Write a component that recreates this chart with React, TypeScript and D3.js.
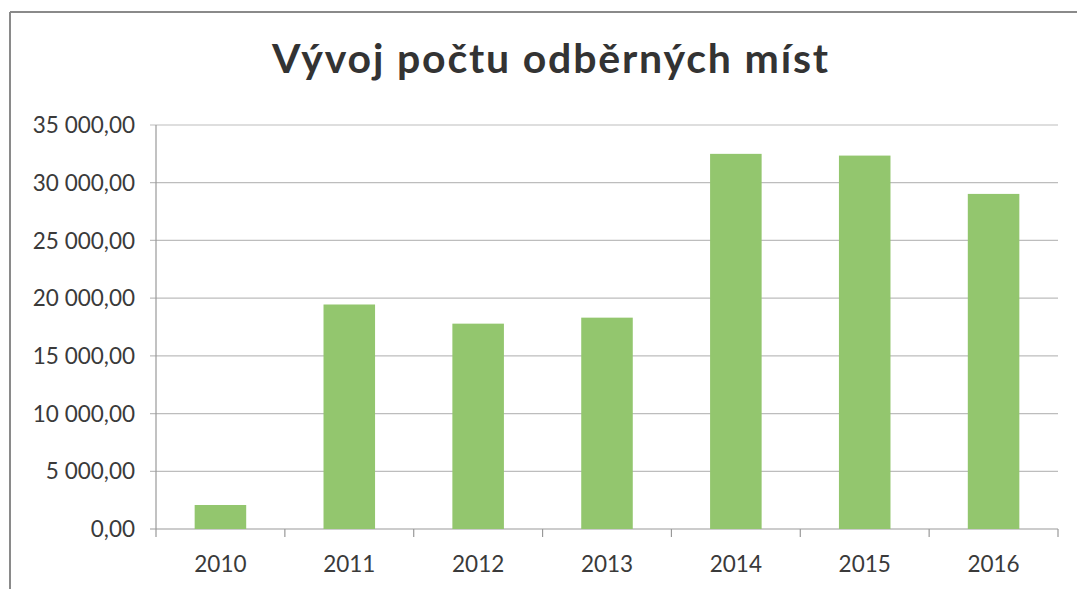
import React from "react";
import * as d3 from "d3";

const categories = ["2010", "2011", "2012", "2013", "2014", "2015", "2016"];
const values = [2080, 19450, 17790, 18310, 32500, 32350, 29030];
const yTicks = [0, 5000, 10000, 15000, 20000, 25000, 30000, 35000];
const title = "Vývoj počtu odběrných míst";

const W = 1077;
const H = 589;
const margin = { left: 156, right: 19, top: 125, bottom: 60 };

const fmt = (v: number) => {
  const s = d3.format(",.2f")(v);
  return s.replace(/,/g, " ").replace(".", ",");
};

export default function App() {
  const x = d3
    .scaleBand<string>()
    .domain(categories)
    .range([margin.left, W - margin.right])
    .paddingInner(0.6)
    .paddingOuter(0.3);
  const bandStep = x.step();
  const y = d3.scaleLinear().domain([0, 35000]).range([H - margin.bottom, margin.top]);
  const textColor = "#3a3a3a";
  const font = "Lato, 'Open Sans', sans-serif";
  const x0 = margin.left;
  const x1 = W - margin.right;
  return (
    <svg
      width={W}
      height={H}
      style={{ position: "absolute", left: 0, top: 0, background: "#fff" }}
    >
      <rect x={0} y={0} width={W} height={H} fill="#fff" />
      <line x1={10} y1={12} x2={W} y2={12} stroke="#8a8a8a" strokeWidth={2} />
      <line x1={10} y1={12} x2={10} y2={H} stroke="#8a8a8a" strokeWidth={2} />
      <text
        x={550}
        y={73}
        textAnchor="middle"
        fontFamily={font}
        fontWeight="bold"
        fontSize={41}
        textLength={556}
        lengthAdjust="spacing"
        fill="#333"
      >
        {title}
      </text>
      {yTicks.map((t) => (
        <g key={t}>
          <line
            x1={x0 - 6}
            x2={x1}
            y1={y(t)}
            y2={y(t)}
            stroke={t === 0 ? "#999" : "#bdbdbd"}
            strokeWidth={1.2}
          />
          <text
            x={135}
            y={y(t)}
            dy="0.36em"
            textAnchor="end"
            fontFamily={font}
            fontSize={22.5}
            fill={textColor}
          >
            {fmt(t)}
          </text>
        </g>
      ))}
      <line x1={x0} x2={x0} y1={y(35000)} y2={y(0) + 8} stroke="#999" strokeWidth={1.2} />
      {categories.map((c, i) => (
        <line
          key={"t" + c}
          x1={x0 + bandStep * (i + 1)}
          x2={x0 + bandStep * (i + 1)}
          y1={y(0)}
          y2={y(0) + 8}
          stroke="#999"
          strokeWidth={1.2}
        />
      ))}
      {categories.map((c, i) => (
        <rect
          key={c}
          x={x(c)}
          y={y(values[i])}
          width={x.bandwidth()}
          height={y(0) - y(values[i])}
          fill="#93c66e"
        />
      ))}
      {categories.map((c) => (
        <text
          key={"l" + c}
          x={(x(c) as number) + x.bandwidth() / 2}
          y={572}
          textAnchor="middle"
          fontFamily={font}
          fontSize={22.5}
          fill={textColor}
        >
          {c}
        </text>
      ))}
    </svg>
  );
}
